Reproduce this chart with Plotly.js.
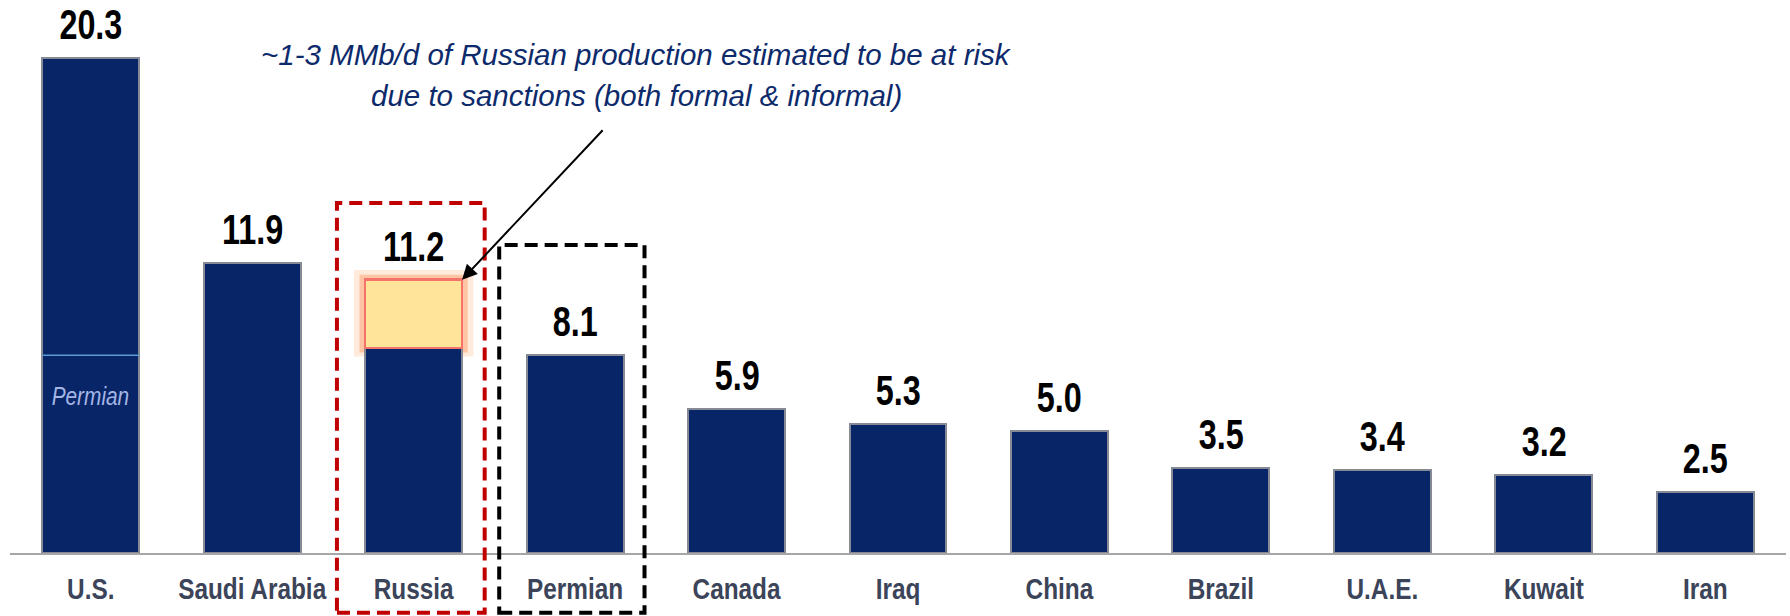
<!DOCTYPE html>
<html>
<head>
<meta charset="utf-8">
<script src="https://cdn.plot.ly/plotly-3.0.1.min.js"></script>
<style>html,body{margin:0;padding:0;background:#fff;}#chart{width:1790px;height:616px;}</style>
</head>
<body>
<div id="chart"></div>
<script>
// ---- data ----
const categories = ["U.S.", "Saudi Arabia", "Russia", "Permian", "Canada", "Iraq", "China", "Brazil", "U.A.E.", "Kuwait", "Iran"];
const totals     = [20.3, 11.9, 11.2, 8.1, 5.9, 5.3, 5.0, 3.5, 3.4, 3.2, 2.5];
const atRisk     = [null, null, 2.8, null, null, null, null, null, null, null, null]; // Russian production at risk
const usPermian  = 8.1;   // Permian share of U.S. production
const noteLines  = ["~1-3 MMb/d of Russian production estimated to be at risk",
                    "due to sanctions (both formal & informal)"];

const baseVals = totals.map((t, i) => +(t - (atRisk[i] || 0)).toFixed(2));

const NAVY = "#082567";
const FONT = "'Liberation Sans', Arial, sans-serif";
const BW = 0.6;
const riskIdx = 2;

const traces = [
  {
    type: "bar", x: categories, y: baseVals, width: BW,
    marker: {color: NAVY, line: {color: "#858a94", width: 2}},
    hoverinfo: "skip", showlegend: false
  },
  {
    type: "bar", x: categories, y: atRisk, width: BW,
    marker: {color: "#ffe49a", line: {color: "#f4736a", width: 2.5}},
    hoverinfo: "skip", showlegend: false
  }
];

const annotations = categories.map((c, i) => ({
  x: c, y: totals[i], xref: "x", yref: "y",
  text: totals[i].toFixed(1), showarrow: false,
  yanchor: "bottom", yshift: 8,
  font: {family: FONT, size: 42, color: "#000", weight: "bold"}
}));

// Permian label inside the U.S. bar
annotations.push({
  x: categories[0], y: usPermian, xref: "x", yref: "y",
  text: "<i>Permian</i>", showarrow: false, yanchor: "middle", yshift: -41,
  font: {family: FONT, size: 26, color: "#a4b6e6"}
});

// note text (two lines)
const noteY = [0.9078, 0.8332];
noteLines.forEach((ln, k) => annotations.push({
  x: 0.3525, y: noteY[k], xref: "paper", yref: "paper",
  text: "<i>" + ln + "</i>", showarrow: false,
  xanchor: "center", yanchor: "middle", align: "center",
  font: {family: FONT, size: 29.5, color: "#0d2a6b"}
}));
// arrow to the at-risk block
annotations.push({
  x: riskIdx + BW / 2, y: totals[riskIdx], xref: "x", yref: "y",
  ax: 142, ay: -151,
  text: "", showarrow: true, arrowhead: 2, arrowsize: 1.5, arrowwidth: 2, arrowcolor: "#000",
  standoff: 0
});

const DASH = "13px,7px";
const shapes = [
  // glow around the at-risk block
  {type: "rect", xref: "x", yref: "y", layer: "below",
   x0: riskIdx - BW/2 - 0.07, x1: riskIdx + BW/2 + 0.07,
   y0: baseVals[riskIdx] - 0.35, y1: totals[riskIdx] + 0.4,
   fillcolor: "rgba(255,170,110,0.25)", line: {width: 0}},
  {type: "rect", xref: "x", yref: "y", layer: "below",
   x0: riskIdx - BW/2 - 0.035, x1: riskIdx + BW/2 + 0.035,
   y0: baseVals[riskIdx] - 0.18, y1: totals[riskIdx] + 0.2,
   fillcolor: "rgba(255,140,80,0.4)", line: {width: 0}},
  // Permian divider in U.S. bar
  {type: "line", xref: "x", yref: "y",
   x0: -BW/2, x1: BW/2, y0: usPermian, y1: usPermian,
   line: {color: "#5b9bd5", width: 1.5}},
  // red dashed box around Russia
  {type: "rect", xref: "x", yref: "paper",
   x0: 2 - 0.475, x1: 2 + 0.44, y0: -0.109, y1: 0.6375,
   line: {color: "#c00000", width: 4, dash: DASH}},
  // black dashed box around Permian
  {type: "rect", xref: "x", yref: "paper",
   x0: 3 - 0.47, x1: 3 + 0.43, y0: -0.109, y1: 0.561,
   line: {color: "#000000", width: 4, dash: DASH}}
];

const layout = {
  width: 1790, height: 616,
  margin: {l: 10, r: 4, t: 4, b: 63},
  barmode: "stack",
  paper_bgcolor: "#ffffff", plot_bgcolor: "#ffffff",
  showlegend: false,
  xaxis: {
    type: "category", range: [-0.5, 10.5],
    showline: true, linecolor: "#a6a6a6", linewidth: 2,
    showgrid: false, zeroline: false, ticks: "",
    ticklabelstandoff: 9,
    tickfont: {family: FONT, size: 29, color: "#3b4459", weight: "bold"}
  },
  yaxis: {visible: false, range: [0, 22.5], showgrid: false, zeroline: false},
  annotations: annotations,
  shapes: shapes
};

// horizontally condense text (the original uses a narrow typeface)
function squeeze(nodes, factor) {
  nodes.forEach(t => {
    const lines = t.querySelectorAll("tspan.line");
    const targets = lines.length ? Array.from(lines) : [t];
    targets.forEach(el => {
      const w = el.getComputedTextLength();
      if (w > 0) {
        el.setAttribute("textLength", (w * factor).toFixed(1));
        el.setAttribute("lengthAdjust", "spacingAndGlyphs");
      }
    });
  });
}

Plotly.newPlot("chart", traces, layout, {displayModeBar: false, staticPlot: true}).then(gd => {
  const ann = Array.from(gd.querySelectorAll("g.annotation text.annotation-text"));
  squeeze(ann.slice(0, categories.length), 0.77);
  squeeze(ann.slice(categories.length, categories.length + 1), 0.8);
  squeeze(Array.from(gd.querySelectorAll(".xtick text")), 0.84);
});
</script>
</body>
</html>
